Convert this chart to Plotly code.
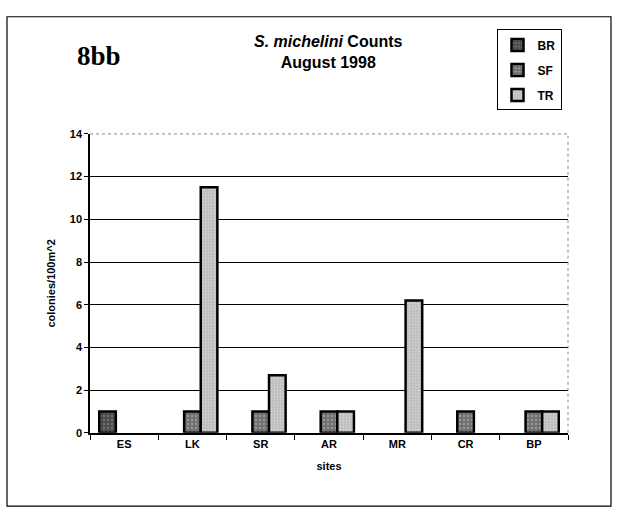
import plotly.graph_objects as go

sites = ["ES", "LK", "SR", "AR", "MR", "CR", "BP"]
br = [1, None, None, None, None, None, None]
sf = [None, 1, 1, 1, None, 1, 1]
tr = [None, 11.5, 2.7, 1, 6.2, None, 1]
y_ticks = [0, 2, 4, 6, 8, 10, 12, 14]

W, H = 618, 514
fig = go.Figure()
line = dict(color="black", width=2.5)
fig.add_bar(x=sites, y=br, name="BR", legendgroup="BR", marker=dict(color="#4a4a4a", line=line,
            pattern=dict(shape=".", fgcolor="#9a9a9a", size=4, solidity=0.3)))
fig.add_bar(x=sites, y=sf, name="SF", legendgroup="SF", marker=dict(color="#6e6e6e", line=line,
            pattern=dict(shape=".", fgcolor="#c4c4c4", size=4, solidity=0.3)))
fig.add_bar(x=sites, y=tr, name="TR", legendgroup="TR", marker=dict(color="#bdbdbd", line=line,
            pattern=dict(shape=".", fgcolor="#ececec", size=3, solidity=0.3)))

tickfont = dict(family="Liberation Sans, Arial", size=11, color="black", weight="bold")

fig.update_layout(
    width=W, height=H,
    margin=dict(l=0, r=0, t=0, b=0),
    paper_bgcolor="white", plot_bgcolor="white",
    barmode="group", bargap=0.27, bargroupgap=0,
    font=dict(family="Liberation Sans, Arial", size=11, color="black"),
    xaxis=dict(domain=[90 / W, 568 / W], showline=True, linecolor="black", linewidth=1.5,
               ticks="outside", ticklen=5, tickcolor="black", tickson="boundaries",
               tickfont=tickfont,
               title=dict(text="<b>sites</b>", font=dict(size=11), standoff=14)),
    yaxis=dict(domain=[1 - 437 / H, 1 - 131 / H], range=[0, 14], tickvals=y_ticks,
               showline=True, linecolor="black", linewidth=1.5, ticks="outside", ticklen=4,
               tickcolor="black", showgrid=True, gridcolor="black", gridwidth=1,
               zeroline=False, tickfont=tickfont,
               title=dict(text="<b>colonies/100m^2</b>", font=dict(size=11), standoff=12)),
    legend=dict(x=529 / W, y=1 - 24 / H, xanchor="center", yanchor="top",
                bordercolor="black", borderwidth=1, bgcolor="white",
                font=dict(family="Liberation Sans, Arial", size=12, color="black", weight="bold"),
                itemwidth=30, tracegroupgap=6, traceorder="grouped"),
    showlegend=True,
)

fig.add_annotation(xref="paper", yref="paper", x=329 / W, y=1 - 47 / H, yanchor="middle",
                   text="<i>S. michelini</i> Counts<br>August 1998", showarrow=False,
                   font=dict(family="Liberation Sans, Arial", size=16, color="black", weight="bold"),
                   align="center")
fig.add_annotation(xref="paper", yref="paper", x=75 / W, y=1 - 51 / H, yanchor="middle",
                   text="<b>8bb</b>", showarrow=False,
                   font=dict(family="Liberation Serif, Times New Roman", size=27, color="black"))

# outer chart border
fig.add_shape(type="rect", xref="paper", yref="paper", x0=7 / W, x1=611 / W,
              y0=1 - 512 / H, y1=1 - 11 / H, line=dict(color="black", width=1.2), layer="below")
# top and right plot-area edges (dotted)
fig.add_shape(type="line", xref="x domain", yref="y domain", x0=0, x1=1, y0=1, y1=1,
              line=dict(color="white", width=3), layer="above")
fig.add_shape(type="line", xref="x domain", yref="y domain", x0=0, x1=1, y0=1, y1=1,
              line=dict(color="#888888", width=1, dash="dot"), layer="above")
fig.add_shape(type="line", xref="x domain", yref="y domain", x0=1, x1=1, y0=0, y1=1,
              line=dict(color="#888888", width=1, dash="dot"), layer="above")

fig.write_html("out.html", config={"displayModeBar": False},
               post_script="document.body.style.margin='0';")
